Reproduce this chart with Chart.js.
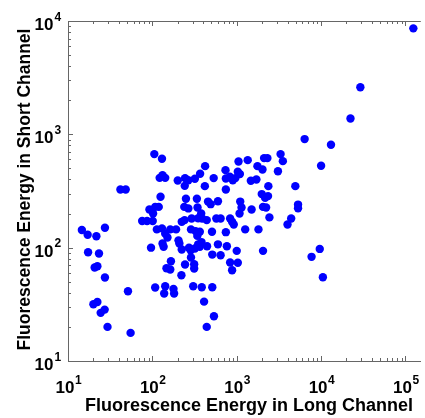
<!DOCTYPE html>
<html>
<head>
<meta charset="utf-8">
<script src="https://cdn.jsdelivr.net/npm/chart.js"></script>
<style>
  html, body { margin: 0; padding: 0; background: #fff; }
  canvas { display: block; }
</style>
</head>
<body>
<canvas id="scatter" width="425" height="418"></canvas>
<script>
// energy in the long channel (x) and in the short channel (y), one entry per event
const longChannel = [
  124000, 29200, 22300, 6380, 13100, 10000, 3310, 3520, 3080, 4950,
  5330, 5330, 4420, 4000, 9640, 7710, 10500, 14.6, 17.1, 21.7,
  27.4, 17.3, 23.3, 20.7, 22.3, 27.4, 20.0, 22.3, 24.4, 27.2,
  29.4, 55.2, 51.4, 41.8, 48.3, 105.5, 130, 132, 122, 142,
  125, 92.3, 102, 119, 108, 75.7, 86.6, 101, 113, 130,
  142, 151, 163, 191, 132, 136, 96.4, 108, 142, 138,
  178, 181, 147, 163, 166, 204, 209, 200, 244, 267,
  242, 250, 239, 267, 223, 241, 292, 287, 223, 284,
  244, 221, 305, 313, 313, 287, 272, 319, 349, 337,
  343, 349, 389, 325, 365, 341, 319, 368, 422, 419,
  385, 410, 441, 382, 365, 445, 457, 491, 441, 379,
  533, 599, 509, 513, 537, 513, 599, 644, 573, 644,
  743, 743, 736, 743, 828, 835, 881, 922, 764, 835,
  881, 1000, 1030, 898, 964, 1050, 1090, 1100, 1140, 1080,
  1350, 1260, 1500, 1470, 1710, 1760, 2020, 2110, 2310, 1810,
  1980, 2170, 2350, 2050, 2370, 2440, 2050, 1030, 2230
];
const shortChannel = [
  8610, 2600, 1380, 908, 809, 528, 669, 580, 473, 349,
  240, 223, 181, 160, 97.5, 83, 54.8, 143, 130, 126,
  150, 91.2, 88.7, 66.8, 68.6, 54.5, 31.7, 33.2, 26.6, 28.4,
  20.0, 17.7, 41.3, 326, 326, 669, 609, 436, 413, 413,
  281, 217, 200, 229, 229, 172, 172, 172, 145, 148,
  133, 123, 145, 145, 109, 102, 100, 44.5, 45.7, 39.4,
  43.3, 39.4, 65.9, 64.1, 75.9, 116, 109, 392, 411, 394,
  351, 270, 229, 222, 169, 175, 181, 145, 96.3, 95.0,
  71.0, 57.1, 45.7, 65.4, 71.5, 81.8, 100, 98.3, 107, 270,
  226, 182, 181, 140, 138, 127, 405, 449, 524, 349,
  44.8, 33.4, 20.0, 112, 102, 103, 255, 242, 175, 200,
  411, 257, 138, 44.8, 24.8, 86.9, 107, 85.8, 181, 181,
  137, 326, 483, 408, 422, 181, 169, 160, 103, 73.9,
  63.2, 93.7, 73.5, 394, 411, 576, 446, 255, 226, 200,
  592, 145, 217, 389, 400, 524, 490, 617, 617, 145,
  297, 275, 285, 229, 349, 185, 93.7, 467, 226
];
const xExponents = [1, 2, 3, 4, 5];
const yExponents = [1, 2, 3, 4];
const xTitle = 'Fluorescence Energy in Long Channel';
const yTitle = 'Fluorescence Energy in Short Channel';

const FONT = '"Liberation Sans", Arial, sans-serif';

// frame, inward ticks and the 10^n labels
const axisDecor = {
  id: 'axisDecor',
  afterDraw(chart) {
    const {ctx, chartArea: area, scales: {x, y}} = chart;
    ctx.save();
    ctx.strokeStyle = '#666';
    ctx.lineWidth = 1;

    ctx.beginPath();
    ctx.moveTo(area.left, area.top + 0.5);
    ctx.lineTo(area.right, area.top + 0.5);

    for (let e = 1; e <= 5; e++) {
      for (let m = 1; m <= 9; m++) {
        const v = m * Math.pow(10, e);
        if (v > x.max) break;
        const px = Math.round(x.getPixelForValue(v)) + 0.5;
        const len = m === 1 ? 5 : 3;
        ctx.moveTo(px, area.bottom);
        ctx.lineTo(px, area.bottom - len);
        ctx.moveTo(px, area.top);
        ctx.lineTo(px, area.top + len);
      }
    }
    for (let e = 1; e <= 4; e++) {
      for (let m = 1; m <= 9; m++) {
        const v = m * Math.pow(10, e);
        if (v > y.max) break;
        const py = Math.round(y.getPixelForValue(v)) + 0.5;
        const len = m === 1 ? 5 : 3;
        ctx.moveTo(area.left, py);
        ctx.lineTo(area.left + len, py);
      }
    }
    ctx.stroke();

    ctx.fillStyle = '#000';
    ctx.textBaseline = 'alphabetic';
    xExponents.forEach(e => {
      const px = x.getPixelForValue(Math.pow(10, e));
      ctx.font = 'bold 17px ' + FONT;
      ctx.textAlign = 'center';
      ctx.fillText('10', px - 3, 393);
      ctx.font = 'bold 12px ' + FONT;
      ctx.textAlign = 'left';
      ctx.fillText(String(e), px + 7, 383.5);
    });
    yExponents.forEach(e => {
      const py = y.getPixelForValue(Math.pow(10, e));
      ctx.font = 'bold 17px ' + FONT;
      ctx.textAlign = 'right';
      ctx.fillText('10', 53.5, py + 9);
      ctx.font = 'bold 12px ' + FONT;
      ctx.textAlign = 'left';
      ctx.fillText(String(e), 54.5, py - 0.5);
    });

    ctx.font = 'bold 18px ' + FONT;
    ctx.textAlign = 'center';
    ctx.fillText(xTitle, 249, 411);

    ctx.translate(30, 189.5);
    ctx.rotate(-Math.PI / 2);
    ctx.font = 'bold 17.5px ' + FONT;
    ctx.fillText(yTitle, 0, 0);
    ctx.restore();
  }
};

new Chart(document.getElementById('scatter'), {
  type: 'scatter',
  data: {
    datasets: [{
      data: longChannel.map((v, i) => ({x: v, y: shortChannel[i]})),
      pointStyle: 'circle',
      pointRadius: 4.2,
      backgroundColor: '#0000ff',
      borderWidth: 0
    }]
  },
  options: {
    responsive: false,
    animation: false,
    devicePixelRatio: 1,
    layout: {padding: {top: 21, right: 0, bottom: 0, left: 0}},
    plugins: {legend: {display: false}, tooltip: {enabled: false}},
    scales: {
      x: {
        type: 'logarithmic',
        min: 10,
        max: 152000,
        grid: {display: false},
        border: {color: '#666'},
        ticks: {display: false},
        afterFit: s => { s.height = 57; }
      },
      y: {
        type: 'logarithmic',
        min: 10,
        max: 10000,
        grid: {display: false},
        border: {color: '#666'},
        ticks: {display: false},
        afterFit: s => { s.width = 68; }
      }
    }
  },
  plugins: [axisDecor]
});
</script>
</body>
</html>
